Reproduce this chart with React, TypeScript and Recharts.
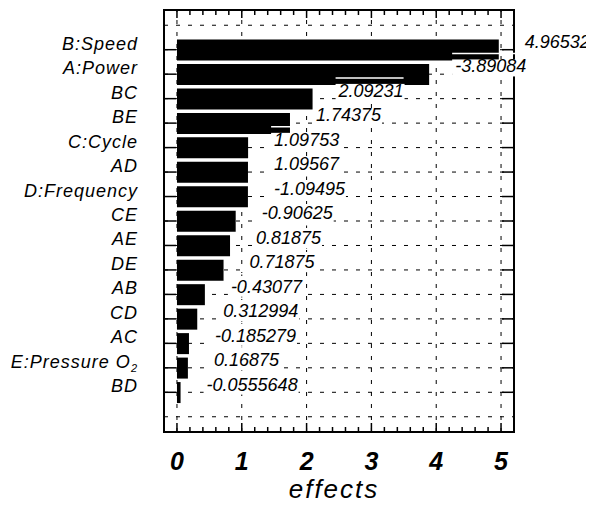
import React from 'react';
import { BarChart, Bar, XAxis, YAxis, CartesianGrid, LabelList, ReferenceLine } from 'recharts';

const factors = [
  'B:Speed', 'A:Power', 'BC', 'BE', 'C:Cycle', 'AD', 'D:Frequency', 'CE',
  'AE', 'DE', 'AB', 'CD', 'AC', 'E:Pressure O2', 'BD',
];
const effects = [
  4.96532, -3.89084, 2.09231, 1.74375, 1.09753, 1.09567, -1.09495, -0.90625,
  0.81875, 0.71875, -0.43077, 0.312994, -0.185279, 0.16875, -0.0555648,
];
const effectTicks = [0, 1, 2, 3, 4, 5];
const minorTicks = [
  0, 0.2, 0.4, 0.6, 0.8, 1, 1.2, 1.4, 1.6, 1.8, 2, 2.2, 2.4, 2.6, 2.8, 3,
  3.2, 3.4, 3.6, 3.8, 4, 4.2, 4.4, 4.6, 4.8, 5,
];
const xDomain = [-0.2, 5.2];
const xTitle = 'effects';

// empty rows above and below keep the grid line at the edges
const rows = [
  { key: 'padTop', factor: '', effect: null as number | null, size: null as number | null },
  ...factors.map((f, i) => ({ key: f, factor: f, effect: effects[i], size: Math.abs(effects[i]) })),
  { key: 'padBottom', factor: '', effect: null as number | null, size: null as number | null },
];

const FONT = '"Liberation Sans", Arial, sans-serif';
const frame = { stroke: '#000', strokeWidth: 2, strokeLinecap: 'square' as const };

const FactorTick = (p: any) => {
  const name: string = p.payload.value;
  if (name.startsWith('pad')) return <g />;
  const sub = /O2$/.test(name);
  return (
    <g>
      <line x1={p.x + 26} x2={p.x + 38} y1={p.y} y2={p.y} stroke="#000" strokeWidth={1.5} />
      <text x={p.x} y={p.y} textAnchor="end" fontFamily={FONT} fontStyle="italic" fontSize={18} letterSpacing={1} fill="#000">
        {sub ? name.slice(0, -1) : name}
        {sub && <tspan fontSize={11} dy={4}>2</tspan>}
      </text>
    </g>
  );
};

const RightTick = (p: any) => {
  if (String(p.payload.value).startsWith('pad')) return <g />;
  return <line x1={p.x - 12} x2={p.x} y1={p.y} y2={p.y} stroke="#000" strokeWidth={1.5} />;
};

const BottomTick = (p: any) => {
  const v = p.payload.value;
  const major = Number.isInteger(v);
  return (
    <g>
      <line x1={p.x} x2={p.x} y1={p.y} y2={p.y - (major ? 9 : 5)} stroke="#000" strokeWidth={1.5} />
      {major && (
        <text x={p.x} y={p.y + 38} textAnchor="middle" fontFamily={FONT} fontStyle="italic" fontWeight="bold" fontSize={25} fill="#000">
          {v}
        </text>
      )}
    </g>
  );
};

const TopTick = (p: any) => {
  const major = Number.isInteger(p.payload.value);
  return <line x1={p.x} x2={p.x} y1={p.y} y2={p.y + (major ? 8 : 5)} stroke="#000" strokeWidth={1.5} />;
};

const charW = (c: string) => (c === '.' ? 5 : c === '-' ? 6 : 10);

const ValueLabel = (props: any) => {
  const { value } = props;
  if (value == null) return null;
  const vb = props.viewBox || props;
  const x = vb.x ?? props.x;
  const y = vb.y ?? props.y;
  const width = vb.width ?? props.width;
  const height = vb.height ?? props.height;
  const cy = y + height / 2;
  const tx = x + width + 26;
  const text = String(value);
  const w = text.split('').reduce((s, c) => s + charW(c), 0);
  return (
    <g>
      <rect x={tx - 3} y={cy - 15} width={w + 4} height={17} fill="#fff" />
      <line x1={tx - 3} x2={tx + w} y1={cy - 21} y2={cy - 21} stroke="#fff" strokeWidth={1.5} />
      <text x={tx} y={cy - 2} fontFamily={FONT} fontStyle="italic" fontSize={18} fill="#000">
        {text}
      </text>
    </g>
  );
};

export default function App() {
  return (
    <div style={{ width: 586, height: 498, background: '#fff' }}>
      <BarChart
        width={586}
        height={498}
        data={rows}
        layout="vertical"
        margin={{ top: 1, right: 79, bottom: 8, left: 0 }}
      >
        <CartesianGrid vertical={false} stroke="#000" strokeDasharray="4 8" />
        {effectTicks.map((v) => (
          <ReferenceLine key={v} x={v} stroke="#000" strokeDasharray="4 8" />
        ))}
        <XAxis
          type="number"
          domain={xDomain}
          allowDataOverflow
          ticks={minorTicks}
          interval={0}
          height={66}
          tickSize={0}
          tickMargin={0}
          tickLine={false}
          axisLine={frame}
          tick={BottomTick}
          label={{
            value: xTitle,
            position: 'insideBottom',
            offset: 0,
            dx: -5,
            fontSize: 26,
            fontStyle: 'italic',
            letterSpacing: 2,
            fontFamily: FONT,
            fill: '#000',
          }}
        />
        <XAxis
          xAxisId="top"
          orientation="top"
          type="number"
          domain={xDomain}
          allowDataOverflow
          ticks={minorTicks}
          interval={0}
          height={1}
          tickSize={0}
          tickMargin={0}
          tickLine={false}
          axisLine={frame}
          tick={TopTick}
        />
        <YAxis
          type="category"
          dataKey="key"
          width={156}
          interval={0}
          padding={{ top: 3, bottom: 3 }}
          tickSize={0}
          tickMargin={26}
          tickLine={false}
          axisLine={frame}
          tick={FactorTick}
        />
        <YAxis
          yAxisId="right"
          orientation="right"
          type="category"
          dataKey="key"
          width={1}
          interval={0}
          padding={{ top: 3, bottom: 3 }}
          tickSize={0}
          tickMargin={0}
          tickLine={false}
          axisLine={frame}
          tick={RightTick}
        />
        <Bar dataKey="size" fill="#000" barSize={21} isAnimationActive={false}>
          <LabelList dataKey="effect" content={ValueLabel} />
        </Bar>
      </BarChart>
    </div>
  );
}
